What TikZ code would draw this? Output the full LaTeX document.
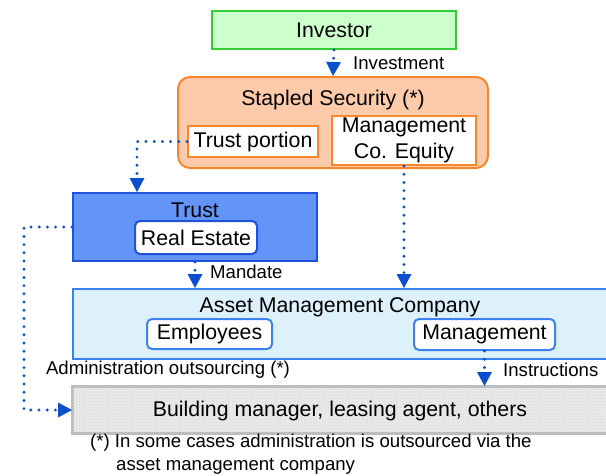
\documentclass[tikz,border=0pt]{standalone}
\usepackage{fontspec}
\setmainfont{Liberation Sans}
\usetikzlibrary{arrows.meta,calc,patterns}
\definecolor{invfill}{HTML}{CCFFCC}
\definecolor{invline}{HTML}{33CC33}
\definecolor{ssfill}{HTML}{FDCBAA}
\definecolor{ssline}{HTML}{F7862F}
\definecolor{trfill}{HTML}{6395F9}
\definecolor{trline}{HTML}{1F52D8}
\definecolor{amcfill}{HTML}{DDF1FB}
\definecolor{amcline}{HTML}{3B82F0}
\definecolor{bfill}{HTML}{EBEBEB}
\definecolor{bdots}{HTML}{D2D2D2}
\definecolor{bline}{HTML}{BDBDBD}
\definecolor{arr}{HTML}{0B4FCE}
\tikzset{
  mainfont/.style={font=\fontsize{21.3}{25.5}\selectfont},
  labfont/.style={font=\fontsize{18.6}{22}\selectfont},
  box/.style={draw, line width=2pt, inner sep=0pt, mainfont},
  txt/.style={inner sep=0pt, mainfont},
  lab/.style={inner sep=0pt, labfont},
  dotarrow/.style={draw=arr, line width=3.2pt, line cap=round, dash pattern=on 0pt off 8.2pt,
     -{Triangle[width=15pt,length=14pt,fill=arr,line width=0pt,sep=0pt]}},
}
\begin{document}
\begin{tikzpicture}[x=1pt,y=-1pt]
\useasboundingbox (0,0) rectangle (606,475);
\clip (0,0) rectangle (606,475);
\fill[white] (0,0) rectangle (606,475);

% Investor
\node[box, fill=invfill, draw=invline, minimum width=244, minimum height=38] (inv) at (334,30) {Investor};

% Stapled security
\node[box, fill=ssfill, draw=ssline, rounded corners=12pt, minimum width=310, minimum height=91] (ss) at (333,122.5) {};
\node[txt] (sstitle) at (333,100) {Stapled Security (*)};
\node[box, fill=white, draw=ssline, minimum width=130, minimum height=31] (tp) at (253,141.5) {Trust portion};
\node[box, fill=white, draw=ssline, minimum width=144, minimum height=49, align=center] (mce) at (404,140.5) {Management\\Co. Equity};

% Trust
\node[box, fill=trfill, draw=trline, minimum width=244, minimum height=68] (tr) at (195,227) {};
\node[txt] (trtitle) at (195,210) {Trust};
\node[box, fill=white, draw=trline, rounded corners=5pt, minimum width=122, minimum height=33] (re) at (196,237.5) {Real Estate};

% Asset management company
\node[box, fill=amcfill, draw=amcline, minimum width=545, minimum height=70] (amc) at (345.5,324) {};
\node[txt] (amctitle) at (340,307) {Asset Management Company};
\node[box, fill=white, draw=amcline, rounded corners=5pt, minimum width=125, minimum height=30] (emp) at (209.5,334) {Employees};
\node[box, fill=white, draw=amcline, rounded corners=5pt, minimum width=141, minimum height=31] (mgt) at (484.5,334.5) {Management};

% Building manager
\node[box, fill=bfill, draw=bline, minimum width=545, minimum height=46] (bld) at (345.5,410) {};
\fill[pattern=crosshatch dots, pattern color=bdots] ([shift={(1pt,-1pt)}]bld.north west) rectangle ([shift={(-1pt,1pt)}]bld.south east);
\draw[bline, line width=2pt] (bld.north west) rectangle (bld.south east);
\node[txt] (bldtxt) at (340,411) {Building manager, leasing agent, others};

% Connectors
\draw[dotarrow] (inv.south) -- (ss.north);
\node[lab, anchor=west] (linv) at (353,63) {Investment};

\draw[dotarrow] (tp.west) -| ([xshift=-58pt]tr.north);

\draw[dotarrow] (tr.south) -- (tr.south |- amc.north);
\node[lab, anchor=west] (lman) at (210,272) {Mandate};

\draw[dotarrow] (mce.south) -- (mce.south |- amc.north);

\draw[dotarrow] (mgt.south) -- (mgt.south |- bld.north);
\node[lab, anchor=west] (lins) at (503,370) {Instructions};

\draw[dotarrow] (tr.west) -- ++(-48,0) |- (bld.west);
\node[lab] (ladm) at (168,370) {Administration outsourcing (*)};

% Footnote
\node[lab, anchor=west] (fn1) at (90,443) {(*) In some cases administration is outsourced via the};
\node[lab, anchor=west] (fn2) at (116,466) {asset management company};
\end{tikzpicture}
\end{document}
